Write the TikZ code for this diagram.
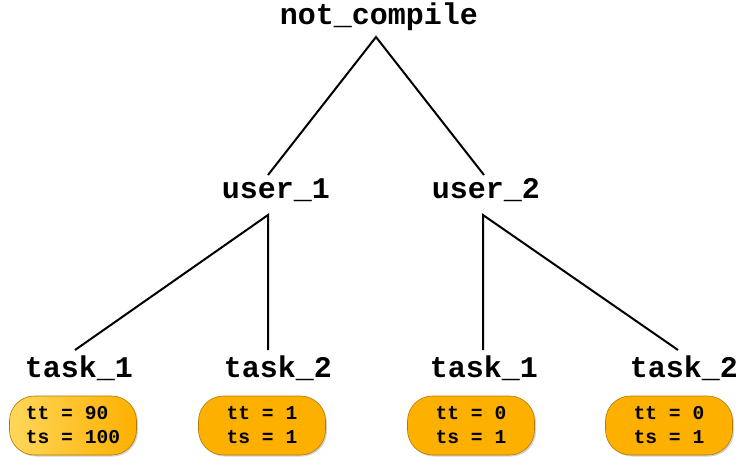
\documentclass[tikz,border=0pt]{standalone}
\usepackage{fontspec}
\setmainfont{Liberation Mono}
\usetikzlibrary{shadows}
\definecolor{boxorange}{HTML}{FDB000}
\definecolor{boxlight}{HTML}{FFD75A}
\definecolor{boxedge}{HTML}{B07A00}
\tikzset{
  lbl/.style={font=\fontsize{30}{32}\selectfont\bfseries, inner sep=0pt},
  valbox/.style={draw=boxedge, line width=0.6pt, fill=boxorange, rounded corners=25pt,
    minimum width=127pt, minimum height=59pt, inner sep=0pt,
    drop shadow={shadow xshift=1.5pt, shadow yshift=-1.5pt, opacity=0.35},
    font=\fontsize{19.6}{24}\selectfont\bfseries, align=left},
  edge/.style={line width=2pt}
}
\begin{document}
\begin{tikzpicture}[x=1pt,y=-1pt]
\useasboundingbox (0,0) rectangle (740,459);
\node[lbl] (root) at (379,17) {not\_compile};
\node[lbl] (u1) at (276,190) {user\_1};
\node[lbl] (u2) at (486,190) {user\_2};
\node[lbl] (t11) at (79,368) {task\_1};
\node[lbl] (t12) at (278,368) {task\_2};
\node[lbl] (t21) at (484,368) {task\_1};
\node[lbl] (t22) at (684,368) {task\_2};
\coordinate (rootb) at (376,37);
\coordinate (u1t) at (268,175);
\coordinate (u2t) at (484,175);
\coordinate (u1b) at (268,215);
\coordinate (u2b) at (483,215);
\coordinate (t11t) at (75,350);
\coordinate (t12t) at (268,350);
\coordinate (t21t) at (483,350);
\coordinate (t22t) at (678,350);
\draw[edge] (u1t) -- (rootb) -- (u2t);
\draw[edge] (t11t) -- (u1b) -- (t12t);
\draw[edge] (t21t) -- (u2b) -- (t22t);
\node[valbox, left color=boxlight, right color=boxorange] (b1) at (73,425.5) {tt = 90\\ts = 100};
\node[valbox] (b2) at (262,425.5) {tt = 1\\ts = 1};
\node[valbox] (b3) at (471,425.5) {tt = 0\\ts = 1};
\node[valbox] (b4) at (669,425.5) {tt = 0\\ts = 1};
\end{tikzpicture}
\end{document}
